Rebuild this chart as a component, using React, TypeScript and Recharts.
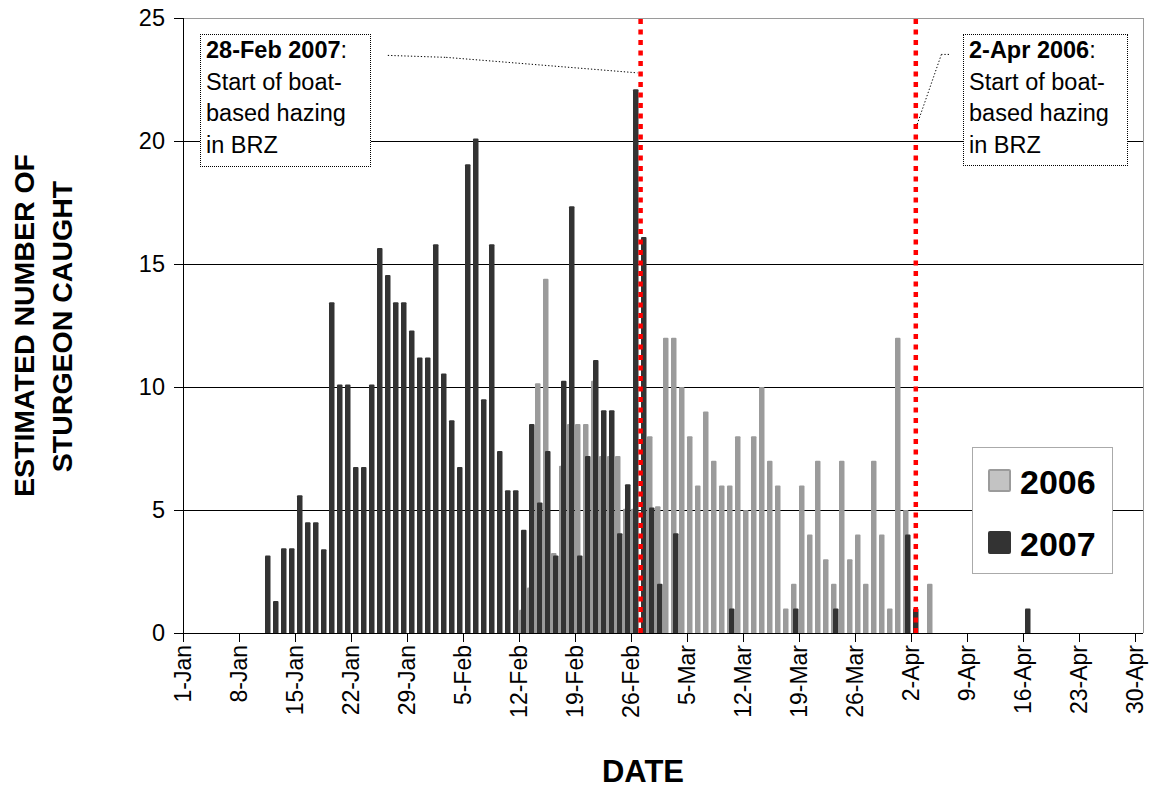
import { BarChart, Bar, XAxis, YAxis, CartesianGrid, ReferenceLine, Legend } from 'recharts';

const FONT = '"Liberation Sans", Arial, sans-serif';

const MONTHS: [string, number][] = [['Jan', 31], ['Feb', 28], ['Mar', 31], ['Apr', 30]];
const DAY_COUNT = 120;
const DATE_TICKS = [0, 7, 14, 21, 28, 35, 42, 49, 56, 63, 70, 77, 84, 91, 98, 105, 112, 119];
const COUNT_TICKS = [0, 5, 10, 15, 20, 25];

// estimated daily catch
const CATCH_2006: [string, number][] = [
  ['12-Feb', 0.95], ['13-Feb', 1.85], ['14-Feb', 10.15], ['15-Feb', 14.4], ['16-Feb', 3.25],
  ['17-Feb', 6.8], ['18-Feb', 8.5], ['19-Feb', 8.5], ['20-Feb', 8.5], ['21-Feb', 10.25],
  ['22-Feb', 7.2], ['23-Feb', 7.2], ['24-Feb', 7.2], ['25-Feb', 5.05], ['26-Feb', 5.05],
  ['28-Feb', 8], ['1-Mar', 5.15], ['2-Mar', 12], ['3-Mar', 12], ['4-Mar', 10],
  ['5-Mar', 8], ['6-Mar', 6], ['7-Mar', 9], ['8-Mar', 7], ['9-Mar', 6],
  ['10-Mar', 6], ['11-Mar', 8], ['12-Mar', 5], ['13-Mar', 8], ['14-Mar', 10],
  ['15-Mar', 7], ['16-Mar', 6], ['17-Mar', 1], ['18-Mar', 2], ['19-Mar', 6],
  ['20-Mar', 4], ['21-Mar', 7], ['22-Mar', 3], ['23-Mar', 2], ['24-Mar', 7],
  ['25-Mar', 3], ['26-Mar', 4], ['27-Mar', 2], ['28-Mar', 7], ['29-Mar', 4],
  ['30-Mar', 1], ['31-Mar', 12], ['1-Apr', 5], ['4-Apr', 2],
];

const CATCH_2007: [string, number][] = [
  ['11-Jan', 3.15], ['12-Jan', 1.3], ['13-Jan', 3.45], ['14-Jan', 3.45], ['15-Jan', 5.6],
  ['16-Jan', 4.5], ['17-Jan', 4.5], ['18-Jan', 3.4], ['19-Jan', 13.45], ['20-Jan', 10.1],
  ['21-Jan', 10.1], ['22-Jan', 6.75], ['23-Jan', 6.75], ['24-Jan', 10.1], ['25-Jan', 15.65],
  ['26-Jan', 14.55], ['27-Jan', 13.45], ['28-Jan', 13.45], ['29-Jan', 12.3], ['30-Jan', 11.2],
  ['31-Jan', 11.2], ['1-Feb', 15.8], ['2-Feb', 10.55], ['3-Feb', 8.65], ['4-Feb', 6.75],
  ['5-Feb', 19.05], ['6-Feb', 20.1], ['7-Feb', 9.5], ['8-Feb', 15.8], ['9-Feb', 7.4],
  ['10-Feb', 5.8], ['11-Feb', 5.8], ['12-Feb', 4.2], ['13-Feb', 8.5], ['14-Feb', 5.3],
  ['15-Feb', 7.4], ['16-Feb', 3.15], ['17-Feb', 10.25], ['18-Feb', 17.35], ['19-Feb', 3.15],
  ['20-Feb', 7.2], ['21-Feb', 11.1], ['22-Feb', 9.05], ['23-Feb', 9.05], ['24-Feb', 4.05],
  ['25-Feb', 6.05], ['26-Feb', 22.1], ['27-Feb', 16.1], ['28-Feb', 5.1], ['1-Mar', 2],
  ['3-Mar', 4.05], ['10-Mar', 1], ['18-Mar', 1], ['23-Mar', 1], ['1-Apr', 4],
  ['2-Apr', 1], ['16-Apr', 1],
];

// red dotted markers, in days since 1-Jan (as placed in the original)
const HAZING_LINES = [57.2, 91.6];

const SERIES = [
  { key: 'y2006', name: '2006', fill: '#9b9b9b', swatch: '#c3c3c3', swatchStroke: '#9b9b9b' },
  { key: 'y2007', name: '2007', fill: '#333333', swatch: '#333333', swatchStroke: '#333333' },
];

function dayIndex(label: string) {
  const [d, m] = label.split('-');
  let idx = 0;
  for (const [name, len] of MONTHS) {
    if (name === m) return idx + Number(d) - 1;
    idx += len;
  }
  return -1;
}

function dayLabel(i: number) {
  let idx = i;
  for (const [name, len] of MONTHS) {
    if (idx < len) return `${idx + 1}-${name}`;
    idx -= len;
  }
  return '';
}

const map2006 = new Map(CATCH_2006.map(([d, v]) => [dayIndex(d), v]));
const map2007 = new Map(CATCH_2007.map(([d, v]) => [dayIndex(d), v]));

const rows = Array.from({ length: DAY_COUNT }, (_, i) => ({
  x: i + 0.5,
  y2006: map2006.get(i) ?? null,
  y2007: map2007.get(i) ?? null,
}));

function DateTick(props: any) {
  const { x, y, payload } = props;
  return (
    <text
      x={x}
      y={y}
      transform={`rotate(-90 ${x} ${y})`}
      textAnchor="end"
      dominantBaseline="central"
      fontSize={23}
      fontFamily={FONT}
      fill="#000"
    >
      {dayLabel(payload.value)}
    </text>
  );
}

function YTitle(props: any) {
  const vb = props.viewBox || { x: 0, y: 18, width: 183, height: 615 };
  const cy = vb.y + vb.height / 2;
  return (
    <g fontFamily={FONT} fontWeight="bold" fontSize={28.5} fill="#000">
      <text transform={`translate(${vb.x + 33.5},${cy}) rotate(-90)`} textAnchor="middle">
        ESTIMATED NUMBER OF
      </text>
      <text transform={`translate(${vb.x + 72},${cy + 1}) rotate(-90)`} textAnchor="middle">
        STURGEON CAUGHT
      </text>
    </g>
  );
}

function XTitle(props: any) {
  const vb = props.viewBox || { x: 183, y: 633, width: 960, height: 156 };
  return (
    <text x={vb.x + 460} y={vb.y + 149} textAnchor="middle" fontFamily={FONT} fontWeight="bold" fontSize={31} fill="#000">
      DATE
    </text>
  );
}

function LegendBox({ payload }: any) {
  return (
    <div
      style={{
        position: 'relative',
        width: 141,
        height: 127,
        boxSizing: 'border-box',
        border: '1px solid #aaa',
        background: '#fff',
        fontFamily: FONT,
      }}
    >
      {(payload || []).map((entry: any, i: number) => {
        const s = SERIES.find((d) => d.name === entry.value) || SERIES[i];
        return (
          <div key={entry.value}>
            <div
              style={{
                position: 'absolute',
                left: 15,
                top: 21 + i * 61.7,
                width: 23,
                height: 23,
                boxSizing: 'border-box',
                background: s.swatch,
                border: `2.5px solid ${s.swatchStroke}`,
                borderRadius: 2,
              }}
            />
            <span
              style={{
                position: 'absolute',
                left: 47,
                top: 17 + i * 61.7,
                fontSize: 34,
                lineHeight: '34px',
                fontWeight: 'bold',
                color: '#000',
              }}
            >
              {entry.value}
            </span>
          </div>
        );
      })}
    </div>
  );
}

const NOTES = [
  { left: 200, top: 34, width: 171, height: 133, date: '28-Feb 2007' },
  { left: 963, top: 34, width: 165, height: 132, date: '2-Apr 2006' },
];

// dotted leader lines from the note boxes to the markers (data units)
const LEADERS = [
  [{ x: 25.6, y: 23.48 }, { x: 32.9, y: 23.4 }],
  [{ x: 32.9, y: 23.4 }, { x: 56.8, y: 22.77 }],
  [{ x: 95.75, y: 23.52 }, { x: 94.8, y: 23.52 }],
  [{ x: 94.8, y: 23.52 }, { x: 91.75, y: 20.66 }],
];

export default function App() {
  return (
    <div style={{ position: 'absolute', left: 0, top: 0, width: 1156, height: 789, background: '#fff' }}>
      <BarChart
        width={1156}
        height={789}
        data={rows}
        margin={{ top: 18, right: 13, left: 0, bottom: 0 }}
        barSize={5.5}
        barGap={-3.5}
      >
        <CartesianGrid vertical={false} stroke="#000" strokeWidth={1} shapeRendering="crispEdges" />
        <XAxis
          dataKey="x"
          type="number"
          domain={[0, DAY_COUNT]}
          ticks={DATE_TICKS}
          interval={0}
          height={156}
          tick={<DateTick />}
          tickSize={9}
          tickMargin={3}
          axisLine={{ stroke: '#000', shapeRendering: 'crispEdges' }}
          tickLine={{ stroke: '#000', shapeRendering: 'crispEdges' }}
          label={(p: any) => <XTitle {...p} />}
        />
        <YAxis
          type="number"
          domain={[0, 25]}
          ticks={COUNT_TICKS}
          interval={0}
          width={183}
          tickSize={9}
          tickMargin={9}
          tick={{ fill: '#000', fontSize: 23.5, fontFamily: FONT }}
          axisLine={{ stroke: '#000', shapeRendering: 'crispEdges' }}
          tickLine={{ stroke: '#000', shapeRendering: 'crispEdges' }}
          label={(p: any) => <YTitle {...p} />}
        />
        <ReferenceLine y={25} stroke="#9a9a9a" strokeWidth={1} shapeRendering="crispEdges" />
        <ReferenceLine x={DAY_COUNT} stroke="#9a9a9a" strokeWidth={1} shapeRendering="crispEdges" />
        {SERIES.map((s) => (
          <Bar key={s.key} dataKey={s.key} name={s.name} fill={s.fill} radius={[1, 1, 0, 0]} isAnimationActive={false} />
        ))}
        {HAZING_LINES.map((x) => (
          <ReferenceLine key={x} x={x} stroke="#ff0000" strokeWidth={4.5} strokeDasharray="5 5.5" />
        ))}
        {LEADERS.map((seg, i) => (
          <ReferenceLine key={i} segment={seg} stroke="#000" strokeWidth={1} strokeDasharray="1.3 2" />
        ))}
        <Legend
          layout="horizontal"
          verticalAlign="middle"
          align="center"
          content={<LegendBox />}
          wrapperStyle={{ left: 972, top: 447, width: 141, height: 127 }}
        />
      </BarChart>
      {NOTES.map((n) => (
        <div
          key={n.date}
          style={{
            position: 'absolute',
            left: n.left,
            top: n.top,
            width: n.width,
            height: n.height,
            boxSizing: 'border-box',
            border: '1.5px dotted #000',
            background: '#fff',
            paddingLeft: 5,
            fontFamily: FONT,
            fontSize: 23.5,
            lineHeight: '31.7px',
            color: '#000',
            whiteSpace: 'nowrap',
          }}
        >
          <b>{n.date}</b>:
          <br />
          Start of boat-
          <br />
          based hazing
          <br />
          in BRZ
        </div>
      ))}
    </div>
  );
}
